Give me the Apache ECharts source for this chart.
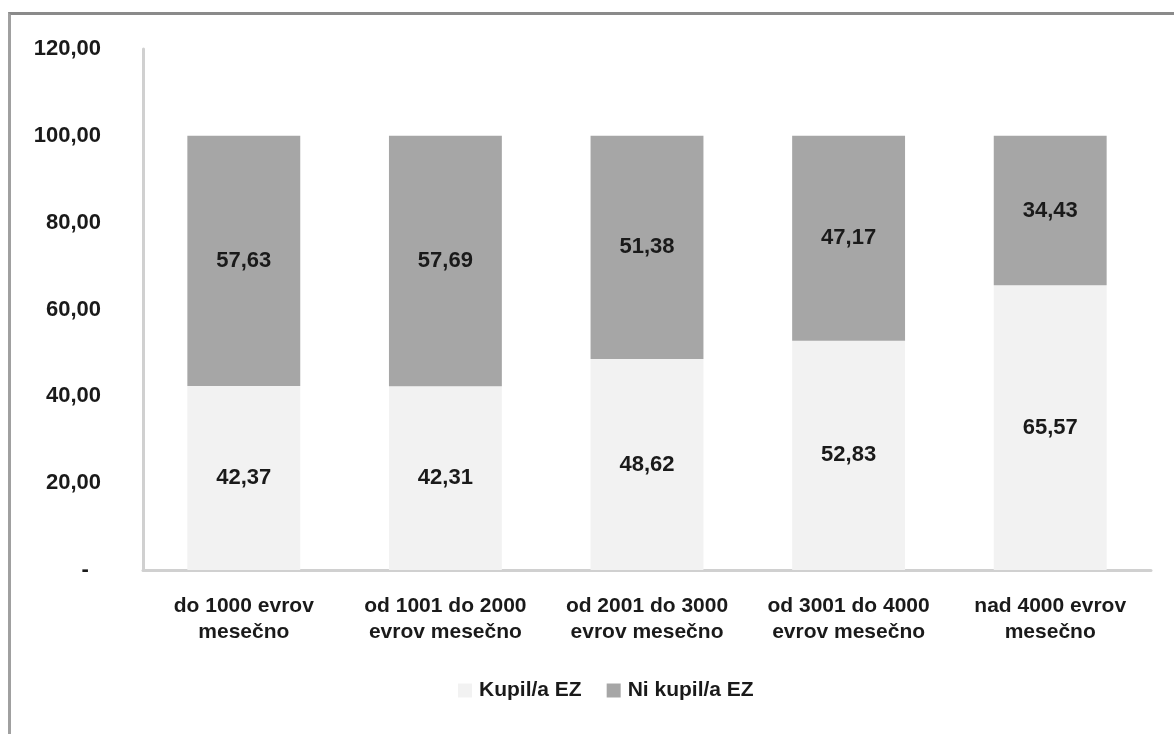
<!DOCTYPE html>
<html>
<head>
<meta charset="utf-8">
<script src="https://cdn.jsdelivr.net/npm/echarts@6/dist/echarts.min.js"></script>
<style>
html,body{margin:0;padding:0;background:#fff;}
#frame{position:absolute;left:8px;top:12px;width:1166px;height:722px;border-top:3px solid #8a8a8a;border-left:3px solid #a0a0a0;box-sizing:border-box;}
#chart{position:absolute;left:0;top:0;width:1174px;height:734px;}
</style>
</head>
<body>
<div id="frame"></div>
<div id="chart"></div>
<script>
// kategorije (dohodek)
var categories = ['do 1000 evrov\nmesečno', 'od 1001 do 2000\nevrov mesečno', 'od 2001 do 3000\nevrov mesečno', 'od 3001 do 4000\nevrov mesečno', 'nad 4000 evrov\nmesečno'];
var kupil = [42.37, 42.31, 48.62, 52.83, 65.57];
var niKupil = [57.63, 57.69, 51.38, 47.17, 34.43];
var yTicks = [0, 20, 40, 60, 80, 100, 120];

function fmt(v){
	return v.toFixed(2).replace('.', ',');
}

var font = 'Liberation Sans, Arial, sans-serif';

option = {
	animation: false,
	grid: {
		left: 143,
		right: 23,
		top: 49,
		bottom: 164
	},
	legend: {
		top: 675,
		left: 453,
		itemWidth: 14,
		itemHeight: 14,
		itemGap: 25,
		icon: 'rect',
		textStyle: {
			fontFamily: font,
			fontSize: 21,
			fontWeight: 'bold',
			color: '#1a1a1a',
			padding: [0, 0, 0, 2]
		},
		data: ['Kupil/a EZ', 'Ni kupil/a EZ']
	},
	xAxis: {
		type: 'category',
		data: categories,
		axisTick: { show: false },
		axisLine: {
			show: true,
			lineStyle: { color: '#d0d0d0', width: 3 }
		},
		axisLabel: {
			fontFamily: font,
			fontSize: 21,
			fontWeight: 'bold',
			color: '#1a1a1a',
			lineHeight: 26,
			margin: 23,
			interval: 0
		}
	},
	yAxis: {
		type: 'value',
		min: yTicks[0],
		max: yTicks[yTicks.length - 1],
		interval: 20,
		splitLine: { show: false },
		axisTick: { show: false },
		axisLine: {
			show: true,
			lineStyle: { color: '#d0d0d0', width: 3 }
		},
		axisLabel: {
			fontFamily: font,
			fontSize: 22,
			fontWeight: 'bold',
			color: '#1a1a1a',
			margin: 42,
			formatter: function(v){
				return v === 0 ? '-  ' : fmt(v);
			}
		}
	},
	series: [{
		name: 'Kupil/a EZ',
		type: 'bar',
		stack: 'total',
		barWidth: '56%',
		data: kupil,
		itemStyle: { color: '#f2f2f2' },
		label: {
			show: true,
			position: 'inside',
			fontFamily: font,
			fontSize: 22,
			fontWeight: 'bold',
			color: '#1a1a1a',
			formatter: function(p){ return fmt(p.value); }
		}
	}, {
		name: 'Ni kupil/a EZ',
		type: 'bar',
		stack: 'total',
		barWidth: '56%',
		data: niKupil,
		itemStyle: { color: '#a6a6a6' },
		label: {
			show: true,
			position: 'inside',
			fontFamily: font,
			fontSize: 22,
			fontWeight: 'bold',
			color: '#1a1a1a',
			formatter: function(p){ return fmt(p.value); }
		}
	}]
};
var myChart = echarts.init(document.getElementById('chart'));
myChart.setOption(option);
</script>
</body>
</html>
